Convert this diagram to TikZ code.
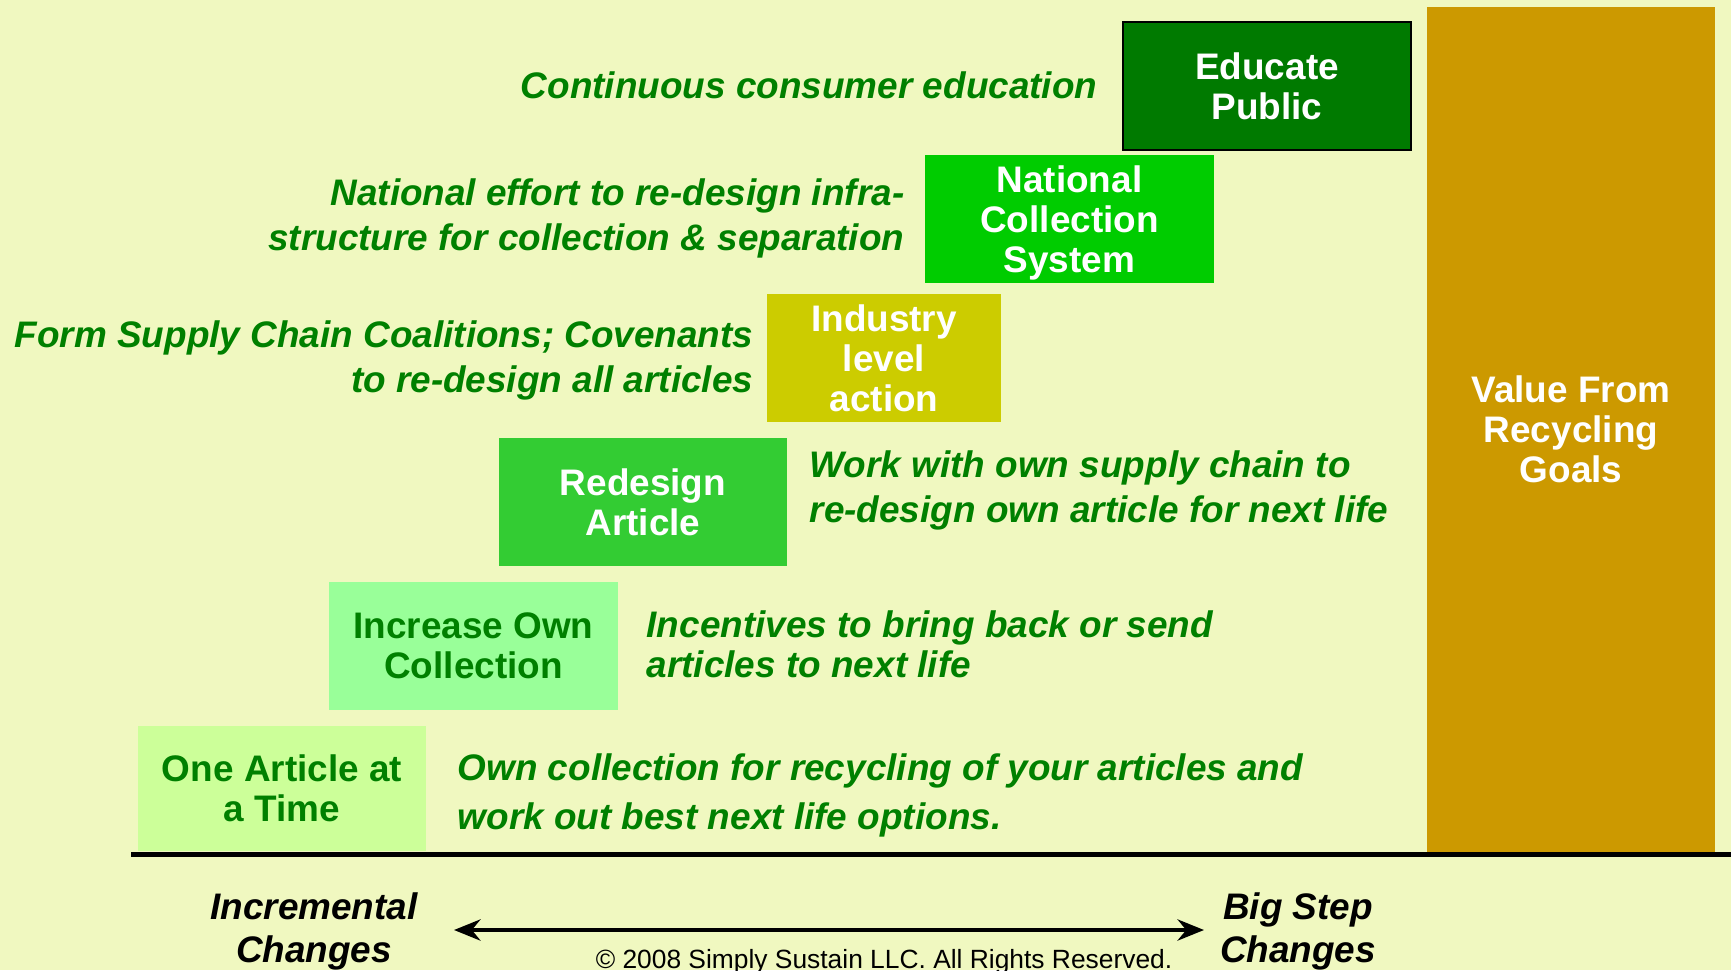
\documentclass[tikz,border=0pt]{standalone}
\usepackage{fontspec}
\setmainfont{Liberation Sans}
\usetikzlibrary{arrows.meta}

\definecolor{paper}{HTML}{F0F8C0}
\definecolor{leafgreen}{HTML}{008000}
\definecolor{darkleaf}{HTML}{007A00}
\definecolor{brightleaf}{HTML}{00CC00}
\definecolor{mustard}{HTML}{CCCC00}
\definecolor{midleaf}{HTML}{33CC33}
\definecolor{paleleaf}{HTML}{99FF99}
\definecolor{lightleaf}{HTML}{CCFF99}
\definecolor{goldbar}{HTML}{CC9900}

\newcommand\stagefont{\fontsize{10.5}{11.4}\selectfont\bfseries}
\newcommand\notefont{\fontsize{10.5}{11.4}\selectfont\bfseries\itshape}
\newcommand\rightsfont{\fontsize{7.5}{9}\selectfont}

\begin{document}
\begin{tikzpicture}[x=0.01cm,y=-0.01cm]
\tikzstyle{every node}=[inner sep=0pt]
\tikzstyle{stage}=[rectangle,minimum width=2.88cm,minimum height=1.28cm,align=center,text=white,font=\stagefont]
\tikzstyle{note}=[text=leafgreen,font=\notefont]
\tikzstyle{scale label}=[align=center,font=\notefont]
\tikzstyle{scale arrow}=[line width=1.4pt,{Stealth[length=7.5pt,width=6pt]}-{Stealth[length=7.5pt,width=6pt]}]

\fill[paper] (0,0) rectangle (1731,970);
\useasboundingbox (0,0) rectangle (1731,970);

% the steps
\node[stage,fill=goldbar,minimum height=8.45cm] (goals) at (1571,429.5) {Value From\\Recycling\\Goals};
\node[stage,fill=darkleaf,draw=black,line width=0.7pt] (educate) at (1267,86) {Educate\\Public};
\node[stage,fill=brightleaf,text depth=0pt] (national) at (1069.5,219) {National\\Collection\\System};
\node[stage,fill=mustard,minimum width=2.34cm] (industry) at (884,358) {Industry\\level\\action};
\node[stage,fill=midleaf] (redesign) at (643,502) {Redesign\\Article};
\node[stage,fill=paleleaf,text=leafgreen] (increase) at (473.5,646) {Increase Own\\Collection};
\node[stage,fill=lightleaf,text=leafgreen,minimum height=1.25cm] (onearticle) at (282,788.5) {One Article at\\a Time};

% what each step means
\node[note,align=right,anchor=east] (educatenote) at (1098,85) {Continuous consumer education};
\node[note,align=right,anchor=east] (nationalnote) at (905,218) {National effort to re-design infra-\\[1.4pt]structure for collection \& separation};
\node[note,align=right,anchor=east] (industrynote) at (754,360.5) {Form Supply Chain Coalitions; Covenants\\[1.4pt]to re-design all articles};
\node[note,align=left,anchor=west] (redesignnote) at (809,490) {Work with own supply chain to\\[1.4pt]re-design own article for next life};
\node[note,align=left,anchor=west] (increasenote) at (646,644) {Incentives to bring back or send\\articles to next life};
\node[note,align=left,anchor=west] (onenote) at (457,795.5) {Own collection for recycling of your articles and\\[2.4pt]work out best next life options.};

% ground line and scale
\coordinate (groundleft) at (131,854.5);
\coordinate (groundright) at (1731,854.5);
\draw[line width=1.42pt] (groundleft) -- (groundright);

\coordinate (smallend) at (454,930);
\coordinate (bigend) at (1204,930);
\draw[scale arrow] (smallend) -- (bigend);
\node[scale label] (incremental) at (314,931.5) {Incremental\\[0.6pt]Changes};
\node[scale label] (bigstep) at (1298,931.5) {Big Step\\[0.6pt]Changes};
\node[font=\rightsfont,anchor=base] (rights) at (884,968) {\textcopyright{} 2008 Simply Sustain LLC. All Rights Reserved.};
\end{tikzpicture}
\end{document}
